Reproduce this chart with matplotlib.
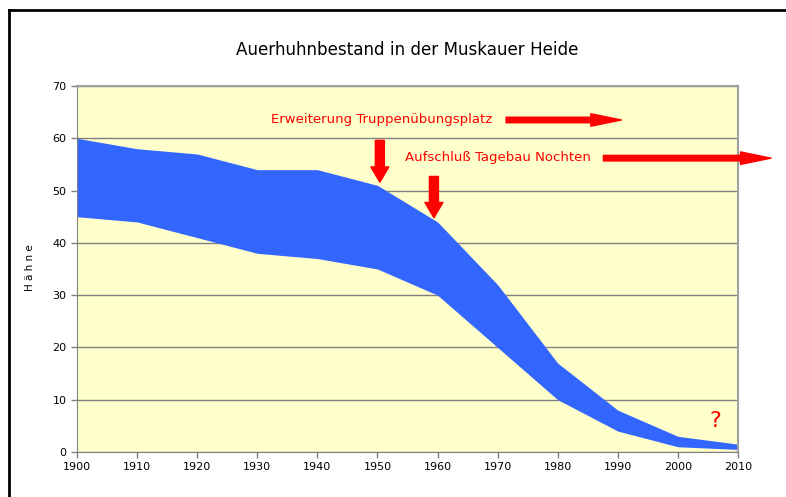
import matplotlib.pyplot as plt
from matplotlib.lines import Line2D

years = [1900, 1910, 1920, 1930, 1940, 1950, 1960, 1970, 1980, 1990, 2000, 2010]
upper = [60, 58, 57, 54, 54, 51, 44, 32, 17, 8, 3, 1.5]
lower = [45, 44, 41, 38, 37, 35, 30, 20, 10, 4, 1, 0.5]
y_ticks = [0, 10, 20, 30, 40, 50, 60, 70]

fig = plt.figure(figsize=(7.86, 4.97), dpi=100)
ax = fig.add_axes([77 / 786, 1 - 452 / 497, 661 / 786, 366 / 497])

ax.set_facecolor('#FFFFCC')
ax.fill_between(years, lower, upper, color='#3366FF', linewidth=0, zorder=2)

ax.set_xlim(1900, 2010)
ax.set_ylim(0, 70)
ax.set_xticks(years)
ax.set_yticks(y_ticks)
ax.tick_params(labelsize=8, length=4, color='#808080', width=1)
ax.grid(axis='y', color='#808080', linewidth=1, zorder=1)
ax.set_axisbelow(True)
for side in ['left', 'bottom']:
    ax.spines[side].set_color('#808080')
for side in ['top', 'right']:
    ax.spines[side].set_color('#A0A0A0')
    ax.spines[side].set_linewidth(1.5)

ax.set_title('Auerhuhnbestand in der Muskauer Heide', fontsize=12.1, pad=22)
fig.text(30 / 786, 1 - 268 / 497, 'H ä h n e', rotation=90, fontsize=7.5,
         ha='center', va='center')

# Annotations
red = '#FF0000'
ax.text(1932.3, 63.6, 'Erweiterung Truppenübungsplatz', color=red, fontsize=9.5,
        va='center', ha='left')
ax.text(1954.6, 56.4, 'Aufschluß Tagebau Nochten', color=red, fontsize=9.5,
        va='center', ha='left')

h_style = 'simple,head_length=2.2,head_width=0.9,tail_width=0.4'
v_style = 'simple,head_length=1.1,head_width=1.3,tail_width=0.65'
ax.annotate('', xy=(1990.6, 63.5), xytext=(1971.4, 63.5),
            arrowprops=dict(arrowstyle=h_style, color=red, shrinkA=0, shrinkB=0),
            annotation_clip=False)
ax.annotate('', xy=(2015.5, 56.2), xytext=(1987.6, 56.2),
            arrowprops=dict(arrowstyle=h_style, color=red, shrinkA=0, shrinkB=0),
            annotation_clip=False)
ax.annotate('', xy=(1950.4, 51.6), xytext=(1950.4, 59.6),
            arrowprops=dict(arrowstyle=v_style, color=red, shrinkA=0, shrinkB=0),
            annotation_clip=False)
ax.annotate('', xy=(1959.4, 44.8), xytext=(1959.4, 52.7),
            arrowprops=dict(arrowstyle=v_style, color=red, shrinkA=0, shrinkB=0),
            annotation_clip=False)
ax.text(2006.2, 6, '?', color=red, fontsize=16, ha='center', va='center')

# outer frame (left and top edges visible)
fig.add_artist(Line2D([9 / 786, 9 / 786], [0, 1 - 10 / 497], color='black',
                      linewidth=2, transform=fig.transFigure))
fig.add_artist(Line2D([9 / 786, 1], [1 - 10 / 497, 1 - 10 / 497], color='black',
                      linewidth=2, transform=fig.transFigure))

fig.savefig('out.png', dpi=100)
